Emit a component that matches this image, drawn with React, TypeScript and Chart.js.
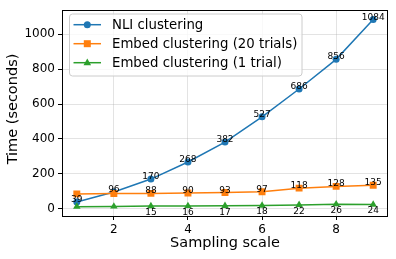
import React, { useEffect, useRef } from "react";
import { Chart, registerables } from "chart.js";

Chart.register(...registerables);

const samplingScale = [1, 2, 3, 4, 5, 6, 7, 8, 9];
const nliValues = [39, 96, 170, 268, 382, 527, 686, 856, 1084];
const embed20Values = [85, 87, 88, 90, 93, 97, 118, 128, 135];
const embed1Values = [12, 13, 15, 16, 17, 18, 22, 26, 24];
const nliLabels = ["39", "96", "170", "268", "382", "527", "686", "856", "1084"];
const embed20Labels = ["", "", "88", "90", "93", "97", "118", "128", "135"];
const embed1Labels = ["", "", "15", "16", "17", "18", "22", "26", "24"];
const xTicks = [2, 4, 6, 8];
const yTicks = [0, 200, 400, 600, 800, 1000];
const seriesNames = ["NLI clustering", "Embed clustering (20 trials)", "Embed clustering (1 trial)"];

const BLUE = "#1f77b4";
const ORANGE = "#ff7f0e";
const GREEN = "#2ca02c";
const FONT = "'DejaVu Sans', sans-serif";

function marker(ctx: CanvasRenderingContext2D, kind: string, x: number, y: number, color: string) {
  ctx.save();
  ctx.fillStyle = color;
  ctx.beginPath();
  if (kind === "circle") {
    ctx.arc(x, y, 3.5, 0, Math.PI * 2);
  } else if (kind === "rect") {
    ctx.rect(x - 3.5, y - 3.5, 7, 7);
  } else {
    ctx.moveTo(x, y - 4.2);
    ctx.lineTo(x + 3.8, y + 2.6);
    ctx.lineTo(x - 3.8, y + 2.6);
    ctx.closePath();
  }
  ctx.fill();
  ctx.restore();
}

const overlay = {
  id: "overlay",
  afterDatasetsDraw(chart: any) {
    const ctx: CanvasRenderingContext2D = chart.ctx;
    const xs = chart.scales.x;
    const ys = chart.scales.y;
    ctx.save();
    ctx.font = `9px ${FONT}`;
    ctx.fillStyle = "#000";
    ctx.textAlign = "center";
    const groups: [number[], string[], boolean][] = [
      [nliValues, nliLabels, true],
      [embed20Values, embed20Labels, true],
      [embed1Values, embed1Labels, false],
    ];
    groups.forEach(([vals, labels, above]) => {
      vals.forEach((v, i) => {
        const t = labels[i];
        if (!t) return;
        const px = xs.getPixelForValue(samplingScale[i]);
        const py = ys.getPixelForValue(v);
        if (above) {
          ctx.textBaseline = "alphabetic";
          ctx.fillText(t, px, py);
        } else {
          ctx.textBaseline = "top";
          ctx.fillText(t, px, py + 2);
        }
      });
    });
    ctx.restore();
  },
  afterDraw(chart: any) {
    const ctx: CanvasRenderingContext2D = chart.ctx;
    const a = chart.chartArea;
    ctx.save();
    // frame
    ctx.strokeStyle = "#000";
    ctx.lineWidth = 1;
    ctx.strokeRect(Math.round(a.left) + 0.5, Math.round(a.top) + 0.5, Math.round(a.right - a.left) - 1, Math.round(a.bottom - a.top));
    // axis titles
    ctx.fillStyle = "#000";
    ctx.font = `14.5px ${FONT}`;
    ctx.textAlign = "center";
    ctx.textBaseline = "middle";
    ctx.fillText("Sampling scale", (a.left + a.right) / 2, 243);
    ctx.save();
    ctx.translate(13, 109);
    ctx.rotate(-Math.PI / 2);
    ctx.fillText("Time (seconds)", 0, 0);
    ctx.restore();
    // legend
    const lx = 69.5, ly = 14, lw = 232.5, lh = 62, r = 3;
    ctx.beginPath();
    ctx.moveTo(lx + r, ly);
    ctx.lineTo(lx + lw - r, ly);
    ctx.quadraticCurveTo(lx + lw, ly, lx + lw, ly + r);
    ctx.lineTo(lx + lw, ly + lh - r);
    ctx.quadraticCurveTo(lx + lw, ly + lh, lx + lw - r, ly + lh);
    ctx.lineTo(lx + r, ly + lh);
    ctx.quadraticCurveTo(lx, ly + lh, lx, ly + lh - r);
    ctx.lineTo(lx, ly + r);
    ctx.quadraticCurveTo(lx, ly, lx + r, ly);
    ctx.closePath();
    ctx.fillStyle = "rgba(255,255,255,0.8)";
    ctx.fill();
    ctx.strokeStyle = "#cccccc";
    ctx.lineWidth = 1;
    ctx.stroke();
    const colors = [BLUE, ORANGE, GREEN];
    const kinds = ["circle", "rect", "triangle"];
    ctx.font = `13.3px ${FONT}`;
    ctx.textAlign = "left";
    ctx.textBaseline = "middle";
    seriesNames.forEach((name, i) => {
      const y = 24.7 + i * 19;
      ctx.strokeStyle = colors[i];
      ctx.lineWidth = 1.5;
      ctx.beginPath();
      ctx.moveTo(73.5, y);
      ctx.lineTo(101, y);
      ctx.stroke();
      marker(ctx, kinds[i], 87.3, y, colors[i]);
      ctx.fillStyle = "#000";
      ctx.fillText(name, 112, y + 0.5);
    });
    ctx.restore();
  },
};

export default function App() {
  const ref = useRef<HTMLCanvasElement | null>(null);
  useEffect(() => {
    if (!ref.current) return;
    const mk = (label: string, data: number[], color: string, style: string, radius: number, order: number) => ({
      label,
      data: data.map((v, i) => ({ x: samplingScale[i], y: v })),
      borderColor: color,
      backgroundColor: color,
      borderWidth: 1.5,
      pointStyle: style,
      pointRadius: radius,
      pointBorderWidth: 0,
      pointBackgroundColor: color,
      tension: 0,
      order,
    });
    const chart = new Chart(ref.current, {
      type: "line",
      data: {
        datasets: [
          mk(seriesNames[0], nliValues, BLUE, "circle", 3.5, 3),
          mk(seriesNames[1], embed20Values, ORANGE, "rect", 4.9, 2),
          mk(seriesNames[2], embed1Values, GREEN, "triangle", 4.3, 1),
        ] as any,
      },
      options: {
        responsive: false,
        animation: false,
        events: [],
        layout: { padding: { top: 6, right: 8, left: 0, bottom: 0 } },
        plugins: { legend: { display: false }, tooltip: { enabled: false } },
        scales: {
          x: {
            type: "linear",
            min: 0.6,
            max: 9.4,
            afterBuildTicks: (s: any) => {
              s.ticks = xTicks.map((v) => ({ value: v }));
            },
            afterFit: (s: any) => {
              s.height = 43;
            },
            grid: { color: "rgba(176,176,176,0.35)", tickColor: "#000", tickLength: 4, lineWidth: 1 },
            border: { display: false },
            ticks: { color: "#000", font: { family: FONT, size: 12 }, padding: 3, maxRotation: 0, callback: (v: any) => String(v) },
          },
          y: {
            type: "linear",
            min: -41.6,
            max: 1137.6,
            afterBuildTicks: (s: any) => {
              s.ticks = yTicks.map((v) => ({ value: v }));
            },
            afterFit: (s: any) => {
              s.width = 62;
            },
            grid: { color: "rgba(176,176,176,0.35)", tickColor: "#000", tickLength: 4, lineWidth: 1 },
            border: { display: false },
            ticks: { color: "#000", font: { family: FONT, size: 12 }, padding: 3, callback: (v: any) => String(v) },
          },
        },
      },
      plugins: [overlay],
    });
    return () => chart.destroy();
  }, []);
  return (
    <div style={{ position: "fixed", left: 0, top: 0, width: 396, height: 259, background: "#fff" }}>
      <canvas ref={ref} width={396} height={259} style={{ display: "block" }} />
    </div>
  );
}
